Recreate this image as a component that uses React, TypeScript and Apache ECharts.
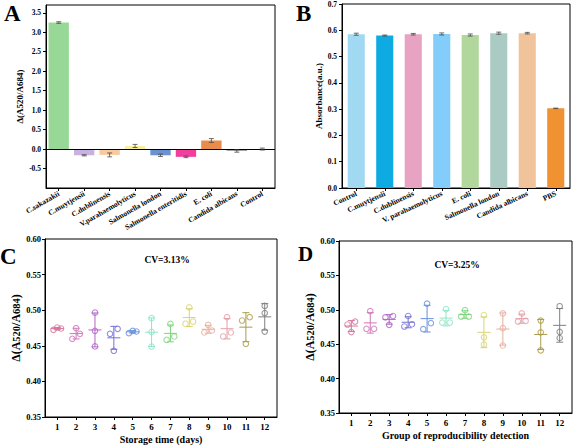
import React, { useEffect, useRef } from "react";
import * as echarts from "echarts";

// ---------- Panel A ----------
const aCategories = ["C.sakazakii", "C.muytjensii", "C.dublinensis", "V.parahaemolyticus", "Salmonella london", "Salmonella enteritidis", "E. coli", "Candida albicans", "Control"];
const aValues = [3.25, -0.16, -0.15, 0.08, -0.16, -0.2, 0.22, -0.05, 0.0];
const aErrors = [0.02, 0.015, 0.05, 0.04, 0.03, 0.02, 0.05, 0.03, 0.025];
const aColors = ["#97d897", "#c9b1e0", "#f9c9a0", "#f7f09c", "#6a93d2", "#f23f9e", "#e98b4a", "#a3a3a3", "#ffffff"];

// ---------- Panel B ----------
const bCategories = ["Control", "C.muytjensii", "C.dublinensis", "V. parahaemolyticus", "E. coli", "Salmonella london", "Candida albicans", "PBS"];
const bValues = [0.585, 0.58, 0.585, 0.586, 0.582, 0.589, 0.589, 0.303];
const bErrors = [0.004, 0.002, 0.003, 0.004, 0.004, 0.004, 0.003, 0.001];
const bColors = ["#a2d9f2", "#0eabe2", "#e8a3c3", "#82cdf9", "#b1d79c", "#aacbc4", "#f0c39b", "#f09232"];

// ---------- Panels C and D ----------
const groupLabels = ["1", "2", "3", "4", "5", "6", "7", "8", "9", "10", "11", "12"];
const groupColors = ["#d5739c", "#cf76b9", "#b264c9", "#7471d2", "#6690df", "#8fe6c6", "#7fd47f", "#d9d572", "#e8ae9e", "#e3a1a8", "#ab9c48", "#808080"];
const cReplicates = [
  [0.4724, 0.4757, 0.4743],
  [0.4598, 0.4748, 0.4668],
  [0.4967, 0.471, 0.4491],
  [0.4738, 0.4668, 0.443],
  [0.4678, 0.471, 0.4701],
  [0.4888, 0.4696, 0.4488],
  [0.4808, 0.4584, 0.4631],
  [0.504, 0.481, 0.484],
  [0.4794, 0.4687, 0.4715],
  [0.4902, 0.4631, 0.4687],
  [0.4902, 0.4855, 0.4528],
  [0.506, 0.496, 0.47],
];
const dReplicates = [
  [0.4829, 0.4786, 0.4676],
  [0.4981, 0.4724, 0.4724],
  [0.491, 0.489, 0.4781],
  [0.491, 0.479, 0.4757],
  [0.509, 0.4805, 0.4719],
  [0.501, 0.4814, 0.4814],
  [0.4995, 0.49, 0.49],
  [0.4924, 0.46, 0.4495],
  [0.4948, 0.4733, 0.4481],
  [0.4948, 0.4838, 0.4829],
  [0.4843, 0.4671, 0.441],
  [0.5052, 0.468, 0.459],
];
const cvC = "CV=3.13%";
const cvD = "CV=3.25%";

const FONT = "'Liberation Serif', 'Times New Roman', serif";
const BLACK = "#000";

const mean = (a: number[]) => a.reduce((s, v) => s + v, 0) / a.length;
const sd = (a: number[]) => {
  const m = mean(a);
  return Math.sqrt(a.reduce((s, v) => s + (v - m) * (v - m), 0) / (a.length - 1));
};

// beeswarm-like horizontal spreading of near-equal replicates
const swarmOffsets = (vals: number[], pxPerUnit: number) => {
  const T = 6;
  const s = 3.8;
  const idx = vals.map((_, i) => i).sort((a, b) => vals[a] - vals[b]);
  const clusters: number[][] = [];
  idx.forEach((i, k) => {
    if (k > 0 && (vals[i] - vals[idx[k - 1]]) * pxPerUnit < T) clusters[clusters.length - 1].push(i);
    else clusters.push([i]);
  });
  const pattern: Record<number, number[]> = { 1: [0], 2: [-s, s], 3: [-s, s, 0] };
  const off = vals.map(() => 0);
  clusters.forEach((c) => c.forEach((i, k) => (off[i] = pattern[c.length][k])));
  return off;
};

const axisLineStyle = { show: true, lineStyle: { color: BLACK, width: 1 } };
const tickStyle = { show: true, length: 3, lineStyle: { color: BLACK, width: 1 } };
const labelBase = { color: BLACK, fontFamily: FONT, fontWeight: "bold" as const };

const barErrorRender = (w: number) => (params: any, api: any) => {
  const x = api.value(0);
  const v = api.value(1);
  const e = api.value(2);
  const top = api.coord([x, v + e]);
  const bot = api.coord([x, v - e]);
  const style = { stroke: "#4a4a4a", lineWidth: 0.8 };
  return {
    type: "group",
    children: [
      { type: "line", shape: { x1: top[0], y1: top[1], x2: bot[0], y2: bot[1] }, style },
      { type: "line", shape: { x1: top[0] - w, y1: top[1], x2: top[0] + w, y2: top[1] }, style },
      { type: "line", shape: { x1: bot[0] - w, y1: bot[1], x2: bot[0] + w, y2: bot[1] }, style },
    ],
  };
};

const meanSdRender = (params: any, api: any) => {
  const x = api.value(0);
  const m = api.value(1);
  const s = api.value(2);
  const g = api.value(3);
  const c = api.coord([x, m]);
  const top = api.coord([x, m + s]);
  const bot = api.coord([x, m - s]);
  const style = { stroke: groupColors[g], lineWidth: 1 };
  return {
    type: "group",
    children: [
      { type: "line", shape: { x1: top[0], y1: top[1], x2: bot[0], y2: bot[1] }, style },
      { type: "line", shape: { x1: top[0] - 3.5, y1: top[1], x2: top[0] + 3.5, y2: top[1] }, style },
      { type: "line", shape: { x1: bot[0] - 3.5, y1: bot[1], x2: bot[0] + 3.5, y2: bot[1] }, style },
      { type: "line", shape: { x1: c[0] - 6.5, y1: c[1], x2: c[0] + 6.5, y2: c[1] }, style },
    ],
  };
};

const scatterData = (reps: number[][], pxPerUnit: number) =>
  reps.flatMap((vals, g) => {
    const off = swarmOffsets(vals, pxPerUnit);
    return vals.map((v, k) => ({
      value: [g + 1, v],
      symbolOffset: [off[k], 0],
      itemStyle: { borderColor: groupColors[g], color: "rgba(0,0,0,0)" },
    }));
  });

const meanData = (reps: number[][]) => reps.map((vals, g) => [g + 1, mean(vals), sd(vals), g]);

const groupTicks = groupLabels.map((_, i) => i + 1);

export default function App() {
  const ref = useRef<HTMLDivElement>(null);
  useEffect(() => {
    if (!ref.current) return;
    const chart = echarts.init(ref.current, null, { renderer: "svg" });
    const gridBox = { show: true, borderColor: BLACK, borderWidth: 1, backgroundColor: "transparent", containLabel: false };
    const subName = (size: number, sub: number) => ({
      ...labelBase,
      fontSize: size,
      rich: {
        s: { fontSize: sub, fontFamily: FONT, fontWeight: "bold", color: BLACK },
      },
    });
    const lvXAxis = (gridIndex: number, name: string) => ({
      type: "value",
      gridIndex,
      min: 0.35,
      max: 12.65,
      splitLine: { show: false },
      axisLine: { ...axisLineStyle, onZero: false },
      axisTick: { ...tickStyle, customValues: groupTicks },
      axisLabel: {
        ...labelBase,
        fontSize: 9,
        margin: 5,
        customValues: groupTicks,
        formatter: (v: number) => groupLabels[Math.round(v) - 1] ?? "",
      },
      name,
      nameLocation: "middle",
      nameGap: 17,
      nameTextStyle: { ...labelBase, fontSize: 10 },
    });
    const lvYAxis = (gridIndex: number) => ({
      type: "value",
      gridIndex,
      min: 0.35,
      max: 0.6,
      interval: 0.05,
      splitLine: { show: false },
      axisLine: axisLineStyle,
      axisTick: tickStyle,
      axisLabel: { ...labelBase, fontSize: 8.5, margin: 4, formatter: (v: number) => v.toFixed(2) },
      name: "Δ(A{s|520}/A{s|684})",
      nameLocation: "middle",
      nameGap: 23,
      nameTextStyle: subName(12, 10.5),
    });

    const option: any = {
      animation: false,
      backgroundColor: "#fff",
      grid: [
        { ...gridBox, left: 46, top: 5, width: 229, height: 183 },
        { ...gridBox, left: 342, top: 3, width: 228, height: 185 },
        { ...gridBox, left: 45, top: 239, width: 232, height: 178 },
        { ...gridBox, left: 339, top: 241, width: 233, height: 172 },
      ],
      xAxis: [
        {
          type: "category",
          gridIndex: 0,
          data: aCategories,
          axisLine: { ...axisLineStyle, onZero: false },
          axisTick: { ...tickStyle, alignWithLabel: true },
          axisLabel: { ...labelBase, fontSize: 7.5, rotate: 30, interval: 0, margin: 5 },
        },
        {
          type: "category",
          gridIndex: 1,
          data: bCategories,
          axisLine: { ...axisLineStyle, onZero: false },
          axisTick: { ...tickStyle, alignWithLabel: true },
          axisLabel: { ...labelBase, fontSize: 7.5, rotate: 25, interval: 0, margin: 5 },
        },
        lvXAxis(2, "Storage time (days)"),
        lvXAxis(3, "Group of reproducibility detection"),
      ],
      yAxis: [
        {
          type: "value",
          gridIndex: 0,
          min: -1,
          max: 3.7,
          interval: 0.5,
          splitLine: { show: false },
          axisLine: { ...axisLineStyle, onZero: false },
          axisTick: tickStyle,
          axisLabel: { ...labelBase, fontSize: 7.5, margin: 5, showMinLabel: false, showMaxLabel: false, formatter: (v: number) => v.toFixed(1) },
          name: "Δ(A520/A684)",
          nameLocation: "middle",
          nameGap: 22,
          nameTextStyle: { ...labelBase, fontSize: 9 },
        },
        {
          type: "value",
          gridIndex: 1,
          min: 0,
          max: 0.7,
          interval: 0.1,
          splitLine: { show: false },
          axisLine: axisLineStyle,
          axisTick: tickStyle,
          axisLabel: { ...labelBase, fontSize: 7.5, margin: 5, formatter: (v: number) => v.toFixed(1) },
          name: "Absorbance(a.u.)",
          nameLocation: "middle",
          nameGap: 19,
          nameTextStyle: { ...labelBase, fontSize: 9 },
        },
        lvYAxis(2),
        lvYAxis(3),
      ],
      series: [
        {
          type: "bar",
          xAxisIndex: 0,
          yAxisIndex: 0,
          barWidth: "80%",
          data: aValues.map((v, i) => ({ value: v, itemStyle: { color: aColors[i] } })),
          markLine: {
            silent: true,
            symbol: ["none", "none"],
            label: { show: false },
            lineStyle: { color: BLACK, width: 1, type: "solid" },
            data: [{ yAxis: 0 }],
          },
        },
        {
          type: "custom",
          xAxisIndex: 0,
          yAxisIndex: 0,
          renderItem: barErrorRender(2.5),
          encode: { x: 0, y: 1 },
          data: aValues.map((v, i) => [i, v, aErrors[i]]),
          z: 5,
        },
        {
          type: "bar",
          xAxisIndex: 1,
          yAxisIndex: 1,
          barWidth: "60%",
          data: bValues.map((v, i) => ({ value: v, itemStyle: { color: bColors[i] } })),
        },
        {
          type: "custom",
          xAxisIndex: 1,
          yAxisIndex: 1,
          renderItem: barErrorRender(2.5),
          encode: { x: 0, y: 1 },
          data: bValues.map((v, i) => [i, v, bErrors[i]]),
          z: 5,
        },
        {
          type: "custom",
          xAxisIndex: 2,
          yAxisIndex: 2,
          renderItem: meanSdRender,
          encode: { x: 0, y: 1 },
          data: meanData(cReplicates),
        },
        {
          type: "scatter",
          xAxisIndex: 2,
          yAxisIndex: 2,
          symbol: "circle",
          symbolSize: 5.5,
          itemStyle: { color: "rgba(0,0,0,0)", borderWidth: 1.1 },
          data: scatterData(cReplicates, 178 / 0.25),
        },
        {
          type: "custom",
          xAxisIndex: 3,
          yAxisIndex: 3,
          renderItem: meanSdRender,
          encode: { x: 0, y: 1 },
          data: meanData(dReplicates),
        },
        {
          type: "scatter",
          xAxisIndex: 3,
          yAxisIndex: 3,
          symbol: "circle",
          symbolSize: 5.5,
          itemStyle: { color: "rgba(0,0,0,0)", borderWidth: 1.1 },
          data: scatterData(dReplicates, 172 / 0.25),
        },
      ],
      graphic: [
        { type: "text", x: 4, y: 13, style: { text: "A", fontSize: 23, fontWeight: "bold", fontFamily: FONT, fill: BLACK, align: "left", verticalAlign: "middle" } },
        { type: "text", x: 296, y: 13, style: { text: "B", fontSize: 23, fontWeight: "bold", fontFamily: FONT, fill: BLACK, align: "left", verticalAlign: "middle" } },
        { type: "text", x: 0, y: 256, style: { text: "C", fontSize: 23, fontWeight: "bold", fontFamily: FONT, fill: BLACK, align: "left", verticalAlign: "middle" } },
        { type: "text", x: 298, y: 254, style: { text: "D", fontSize: 21, fontWeight: "bold", fontFamily: FONT, fill: BLACK, align: "left", verticalAlign: "middle" } },
        { type: "text", x: 167, y: 260, style: { text: cvC, fontSize: 9.5, fontWeight: "bold", fontFamily: FONT, fill: BLACK, align: "center", verticalAlign: "middle" } },
        { type: "text", x: 457, y: 265, style: { text: cvD, fontSize: 9.5, fontWeight: "bold", fontFamily: FONT, fill: BLACK, align: "center", verticalAlign: "middle" } },
      ],
    };
    chart.setOption(option);
    return () => chart.dispose();
  }, []);
  return <div ref={ref} style={{ position: "absolute", left: 0, top: 0, width: 574, height: 448, background: "#fff" }} />;
}
